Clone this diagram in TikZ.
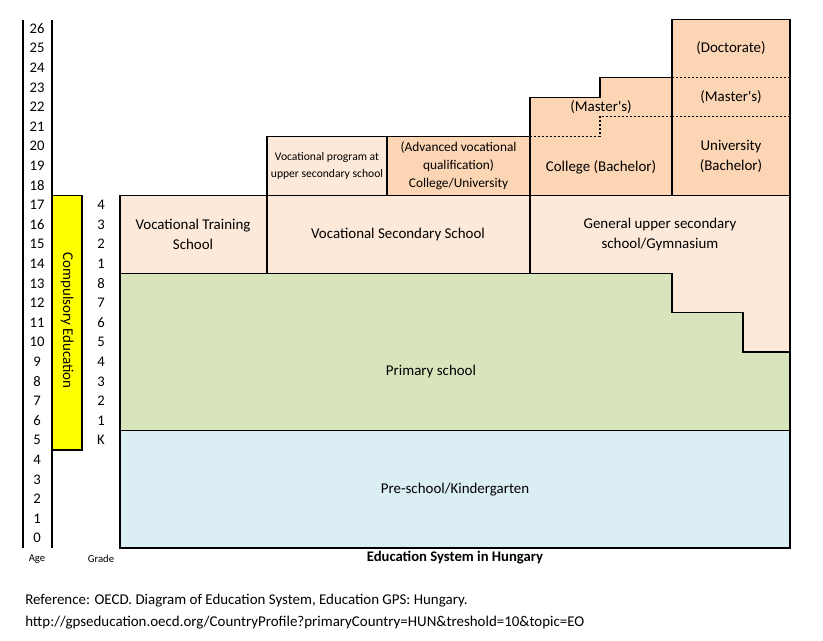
\documentclass[tikz,border=0pt]{standalone}
\usepackage{fontspec}
\setmainfont{Carlito}[Ligatures=TeXOff]
\definecolor{preschool}{HTML}{DAEEF3}
\definecolor{primaryc}{HTML}{D8E4BC}
\definecolor{secondc}{HTML}{FDE9D9}
\definecolor{tertc}{HTML}{FCD5B4}
\definecolor{compc}{HTML}{FFFF00}

\newcommand{\edvar}{
\def\xl{120}   % left edge of the school boxes
\def\xr{790}   % right edge
\def\xa{267}
\def\xb{387}
\def\xc{530}
\def\xd{600}
\def\xu{672}
\def\xs{743}
\def\ytop{26.95}
}

\tikzset{
  box/.style={draw,line width=0.9pt},
  lbl/.style={font=\fontsize{11.2}{15}\selectfont,align=center,inner sep=0pt},
  smalllbl/.style={font=\fontsize{8.7}{12.5}\selectfont,align=center,inner sep=0pt},
  axislbl/.style={font=\fontsize{11}{12}\selectfont,inner sep=0pt},
  tinylbl/.style={font=\fontsize{8}{9}\selectfont,inner sep=0pt},
  sepline/.style={dash pattern=on 1.5pt off 1.5pt,line width=0.8pt}
}

\begin{document}
\begin{tikzpicture}[x=0.75pt,y=14.7pt]
  \edvar
  \useasboundingbox (0,-4.745) rectangle (823,27.959);
  % age axis
  \draw[line width=0.9pt] (23,0) -- (23,\ytop);
  \draw[line width=0.9pt] (52,0) -- (52,\ytop);
  \foreach \a in {0,...,26}
    \node[axislbl] (age\a) at (37,\a+0.5) {\a};
  \foreach \g [count=\i from 5] in {K,1,2,3,4,5,6,7,8,1,2,3,4}
    \node[axislbl] (grade\i) at (101,\i+0.5) {\g};
  \node[tinylbl] (agetitle) at (37,-0.56) {Age};
  \node[tinylbl] (gradetitle) at (101,-0.56) {Grade};
  % compulsory education
  \draw[box,fill=compc] (52,5) rectangle (82,18);
  \node[lbl,rotate=-90] (compulsory) at (67,11.6) {Compulsory Education};
  % pre-school and primary
  \draw[box,fill=preschool] (\xl,0) rectangle (\xr,6);
  \node[lbl] (preschool) at (455,3) {Pre-school/Kindergarten};
  \draw[box,fill=primaryc] (\xl,6) -- (\xr,6) -- (\xr,10) -- (\xs,10) -- (\xs,12)
    -- (\xu,12) -- (\xu,14) -- (\xl,14) -- cycle;
  \node[lbl] (primary) at (431,9) {Primary school};
  % upper secondary
  \draw[box,fill=secondc] (\xl,14) rectangle (\xa,18);
  \node[lbl] (vts) at (193,16) {Vocational Training\\School};
  \draw[box,fill=secondc] (\xa,14) rectangle (\xc,18);
  \node[lbl] (vss) at (398,16) {Vocational Secondary School};
  \draw[box,fill=secondc] (\xc,14) -- (\xu,14) -- (\xu,12) -- (\xs,12) -- (\xs,10)
    -- (\xr,10) -- (\xr,18) -- (\xc,18) -- cycle;
  \node[lbl] (gym) at (660,16) {General upper secondary\\school/Gymnasium};
  % post-secondary and tertiary
  \draw[box,fill=secondc] (\xa,18) rectangle (\xb,21);
  \node[smalllbl] (vocprog) at (327,19.5) {Vocational program at\\upper secondary school};
  \draw[box,fill=tertc] (\xb,18) rectangle (\xc,21);
  \node[smalllbl,font=\fontsize{10}{13.5}\selectfont] (advvoc) at (458.5,19.5)
    {(Advanced vocational\\qualification)\\College/University};
  \draw[box,fill=tertc] (\xc,18) -- (\xu,18) -- (\xu,24) -- (\xd,24) -- (\xd,23)
    -- (\xc,23) -- cycle;
  \draw[sepline] (\xc,21) -- (\xd,21) -- (\xd,22) -- (\xu,22);
  \node[lbl] (college) at (601,19.44) {College (Bachelor)};
  \node[lbl] (colmaster) at (601,22.5) {(Master's)};
  \draw[box,fill=tertc] (\xu,18) rectangle (\xr,\ytop);
  \draw[sepline] (\xu,22) -- (\xr,22);
  \draw[sepline] (\xu,24) -- (\xr,24);
  \node[lbl] (univ) at (731,20) {University\\(Bachelor)};
  \node[lbl] (unimaster) at (731,23) {(Master's)};
  \node[lbl] (doctorate) at (731,25.5) {(Doctorate)};
  % titles
  \node[lbl,font=\bfseries\fontsize{11}{13}\selectfont] (title) at (455,-0.51)
    {Education System in Hungary};
  \node[lbl,anchor=west] (ref1) at (25,-2.7)
    {Reference: OECD. Diagram of Education System, Education GPS: Hungary.};
  \node[lbl,anchor=west] (ref2) at (25,-3.82)
    {http://gpseducation.oecd.org/CountryProfile?primaryCountry=HUN\&treshold=10\&topic=EO};
\end{tikzpicture}
\end{document}
